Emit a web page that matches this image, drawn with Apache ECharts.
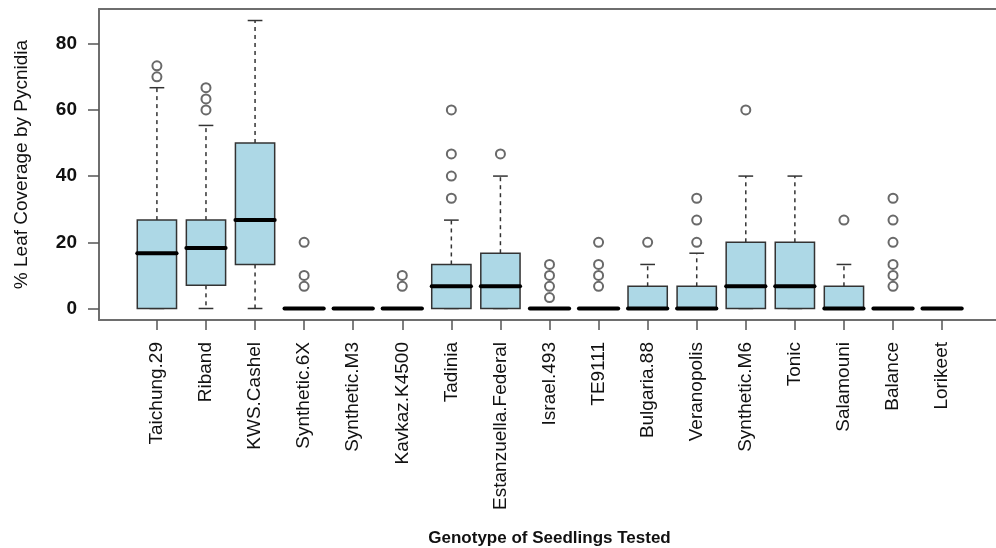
<!DOCTYPE html>
<html>
<head>
<meta charset="utf-8">
<script src="https://cdn.jsdelivr.net/npm/echarts@6/dist/echarts.min.js"></script>
<style>
  html, body { margin: 0; padding: 0; background: #fff; overflow: hidden; }
  #chart { width: 996px; height: 548px; }
</style>
</head>
<body>
<div id="chart"></div>
<script>
// Genotypes, in plotting order (positions 1..17)
const genotypes = ['Taichung.29', 'Riband', 'KWS.Cashel', 'Synthetic.6X', 'Synthetic.M3',
  'Kavkaz.K4500', 'Tadinia', 'Estanzuella.Federal', 'Israel.493', 'TE9111', 'Bulgaria.88',
  'Veranopolis', 'Synthetic.M6', 'Tonic', 'Salamouni', 'Balance', 'Lorikeet'];

// Five-number summaries (% leaf coverage by pycnidia)
const whiskerLow  = [0, 0, 0, 0, 0, 0, 0, 0, 0, 0, 0, 0, 0, 0, 0, 0, 0];
const quartile1   = [0, 7, 13.3, 0, 0, 0, 0, 0, 0, 0, 0, 0, 0, 0, 0, 0, 0];
const medians     = [16.7, 18.3, 26.7, 0, 0, 0, 6.7, 6.7, 0, 0, 0, 0, 6.7, 6.7, 0, 0, 0];
const quartile3   = [26.7, 26.7, 50, 0, 0, 0, 13.3, 16.7, 0, 0, 6.7, 6.7, 20, 20, 6.7, 0, 0];
const whiskerHigh = [66.7, 55.3, 87, 0, 0, 0, 26.7, 40, 0, 0, 13.3, 16.7, 40, 40, 13.3, 0, 0];

// Outlying observations per genotype
const outliers = [
  [73.3, 70], [66.7, 63.3, 60], [], [20, 10, 6.7], [], [10, 6.7],
  [60, 46.7, 40, 33.3], [46.7], [13.3, 10, 6.7, 3.3], [20, 13.3, 10, 6.7], [20],
  [33.3, 26.7, 20], [60], [], [26.7], [33.3, 26.7, 20, 13.3, 10, 6.7], []
];

const yTicks = [0, 20, 40, 60, 80];

const boxData = genotypes.map((g, i) => [i + 1, whiskerLow[i], quartile1[i], medians[i], quartile3[i], whiskerHigh[i]]);
const outlierData = [];
outliers.forEach((list, i) => list.forEach(v => outlierData.push([i + 1, v])));

const boxWidth = 0.8;   // in x-axis units
const capWidth = 0.3;
const frameLine = { show: true, onZero: false, lineStyle: { color: '#6e6e6e', width: 2 } };
const font = 'Liberation Sans, Arial, sans-serif';

function renderBox(params, api) {
  const x = api.value(0);
  const lo = api.value(1), q1 = api.value(2), md = api.value(3), q3 = api.value(4), hi = api.value(5);
  const pL = api.coord([x - boxWidth / 2, 0])[0];
  const pR = api.coord([x + boxWidth / 2, 0])[0];
  const cL = api.coord([x - capWidth / 2, 0])[0];
  const cR = api.coord([x + capWidth / 2, 0])[0];
  const cx = api.coord([x, 0])[0];
  const y = v => api.coord([x, v])[1];
  const dark = '#333';
  const children = [];
  const whiskerStyle = { stroke: dark, lineWidth: 1.5, lineDash: [4, 4], fill: null };
  if (hi > q3) children.push({ type: 'line', shape: { x1: cx, y1: y(q3), x2: cx, y2: y(hi) }, style: whiskerStyle });
  if (lo < q1) children.push({ type: 'line', shape: { x1: cx, y1: y(q1), x2: cx, y2: y(lo) }, style: whiskerStyle });
  children.push({ type: 'line', shape: { x1: cL, y1: y(hi), x2: cR, y2: y(hi) }, style: { stroke: dark, lineWidth: 1.5 } });
  children.push({ type: 'line', shape: { x1: cL, y1: y(lo), x2: cR, y2: y(lo) }, style: { stroke: dark, lineWidth: 1.5 } });
  children.push({ type: 'rect', shape: { x: pL, y: y(q3), width: pR - pL, height: y(q1) - y(q3) },
    style: { fill: '#ADD8E6', stroke: dark, lineWidth: 1.5 } });
  children.push({ type: 'line', shape: { x1: pL, y1: y(md), x2: pR, y2: y(md) },
    style: { stroke: '#000', lineWidth: 4, lineCap: 'round' } });
  return { type: 'group', children };
}

const chart = echarts.init(document.getElementById('chart'), null, { renderer: 'canvas' });
chart.setOption({
  animation: false,
  backgroundColor: '#fff',
  grid: {
    left: 99, top: 9, right: -4, bottom: 228,
    show: false, containLabel: false, outerBoundsMode: 'none'
  },
  xAxis: [{
    type: 'value', min: -0.18, max: 18.18,
    splitLine: { show: false },
    axisLine: frameLine,
    axisTick: { show: true, length: 10, customValues: genotypes.map((g, i) => i + 1),
      lineStyle: { color: '#555', width: 1.5 } },
    axisLabel: {
      customValues: genotypes.map((g, i) => i + 1),
      formatter: v => genotypes[Math.round(v) - 1] || '',
      rotate: 90, margin: 22,
      fontFamily: font, fontSize: 19, color: '#111'
    },
    name: 'Genotype of Seedlings Tested',
    nameLocation: 'middle', nameGap: 210,
    nameTextStyle: { fontFamily: font, fontSize: 17, fontWeight: 'bold', color: '#111' }
  }, {
    // top edge of the frame
    type: 'value', position: 'top', min: -0.18, max: 18.18,
    splitLine: { show: false }, axisTick: { show: false }, axisLabel: { show: false },
    axisLine: frameLine
  }],
  yAxis: {
    type: 'value', min: -3.48, max: 90.48,
    splitLine: { show: false },
    axisLine: frameLine,
    axisTick: { show: true, length: 11, customValues: yTicks, lineStyle: { color: '#555', width: 1.5 } },
    axisLabel: {
      customValues: yTicks, margin: 22,
      fontFamily: font, fontSize: 19, fontWeight: 'bold', color: '#111'
    },
    name: '% Leaf Coverage by Pycnidia',
    nameLocation: 'middle', nameGap: 68,
    nameTextStyle: { fontFamily: font, fontSize: 19, color: '#111' }
  },
  series: [
    {
      type: 'custom',
      renderItem: renderBox,
      data: boxData,
      encode: { x: 0, y: [1, 2, 3, 4, 5] },
      clip: false
    },
    {
      type: 'scatter',
      data: outlierData,
      symbol: 'emptyCircle',
      symbolSize: 9,
      itemStyle: { color: '#444', borderWidth: 1.5 },
      z: 3
    }
  ]
});
</script>
</body>
</html>
